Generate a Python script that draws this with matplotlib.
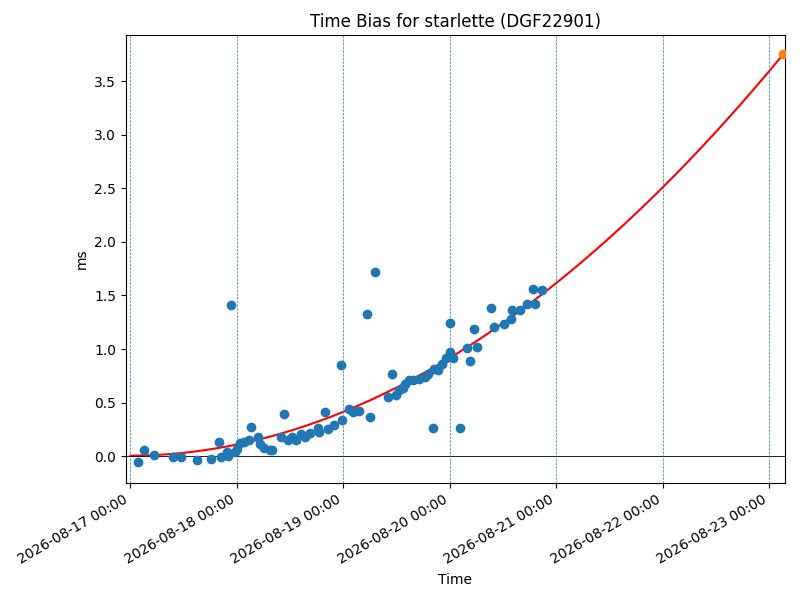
import matplotlib
matplotlib.use("Agg")
import matplotlib.pyplot as plt
import matplotlib.dates as mdates
import numpy as np
from datetime import datetime, timedelta

start = datetime(2026, 8, 17)

# measured points: days since 2026-08-17 00:00, bias in ms
days = [0.07, 0.13, 0.22, 0.40, 0.48, 0.63, 0.76, 0.83, 0.85, 0.91, 0.92, 0.95, 0.98,
        1.0, 1.03, 1.07, 1.12, 1.13, 1.20, 1.22, 1.26, 1.31, 1.33, 1.42, 1.44, 1.48,
        1.52, 1.56, 1.60, 1.64, 1.69, 1.76, 1.77, 1.83, 1.86, 1.91, 1.98, 1.99, 2.05,
        2.09, 2.15, 2.22, 2.25, 2.30, 2.42, 2.46, 2.50, 2.52, 2.56, 2.58, 2.62, 2.66,
        2.71, 2.77, 2.80, 2.84, 2.85, 2.89, 2.93, 2.97, 3.0, 3.0, 3.03, 3.10, 3.16,
        3.19, 3.23, 3.26, 3.39, 3.42, 3.51, 3.58, 3.59, 3.66, 3.73, 3.78, 3.80, 3.87]
bias = [-0.05, 0.06, 0.01, -0.01, -0.01, -0.04, -0.03, 0.13, -0.01, 0.04, 0.0, 1.41, 0.04,
        0.07, 0.12, 0.13, 0.15, 0.27, 0.18, 0.11, 0.08, 0.06, 0.06, 0.18, 0.39, 0.15,
        0.18, 0.15, 0.21, 0.18, 0.22, 0.26, 0.23, 0.41, 0.25, 0.29, 0.85, 0.34, 0.44,
        0.41, 0.42, 1.33, 0.37, 1.72, 0.55, 0.77, 0.57, 0.62, 0.64, 0.67, 0.71, 0.71,
        0.72, 0.74, 0.77, 0.26, 0.81, 0.80, 0.86, 0.92, 0.97, 1.24, 0.92, 0.26, 1.01,
        0.89, 1.19, 1.02, 1.38, 1.21, 1.23, 1.28, 1.36, 1.36, 1.42, 1.56, 1.42, 1.55]

# fit curve
curve_days = [0, 1, 2, 3, 4, 5, 6.13]
curve_ms = [0.01, 0.1, 0.4, 0.95, 1.6, 2.5, 3.75]

pred_day = 6.13
pred_ms = 3.75


def to_dt(d):
    return [start + timedelta(days=x) for x in d]


coef = np.polyfit(curve_days, curve_ms, 3)
t = np.linspace(0, pred_day, 300)

fig, ax = plt.subplots(figsize=(8, 6), dpi=100)
ax.scatter(to_dt(days), bias, color="tab:blue", zorder=3)
ax.plot(to_dt(t), np.polyval(coef, t), color="red")
ax.scatter(to_dt([pred_day]), [pred_ms], color="tab:orange", zorder=3)
ax.axhline(0, color="black", linewidth=0.6)
for d in range(7):
    ax.axvline(start + timedelta(days=d), linestyle="--", linewidth=0.5)

ax.set_xlim(start - timedelta(days=0.04), start + timedelta(days=6.15))
ax.set_ylim(-0.25, 3.93)
ax.xaxis.set_major_locator(mdates.DayLocator())
ax.xaxis.set_major_formatter(mdates.DateFormatter("%Y-%m-%d %H:%M"))
ax.set_xlabel("Time")
ax.set_ylabel("ms")
ax.set_title("Time Bias for starlette (DGF22901)")
fig.autofmt_xdate()
plt.subplots_adjust(left=0.1575, right=0.98125, top=0.9417, bottom=0.195)
plt.savefig("out.png")
